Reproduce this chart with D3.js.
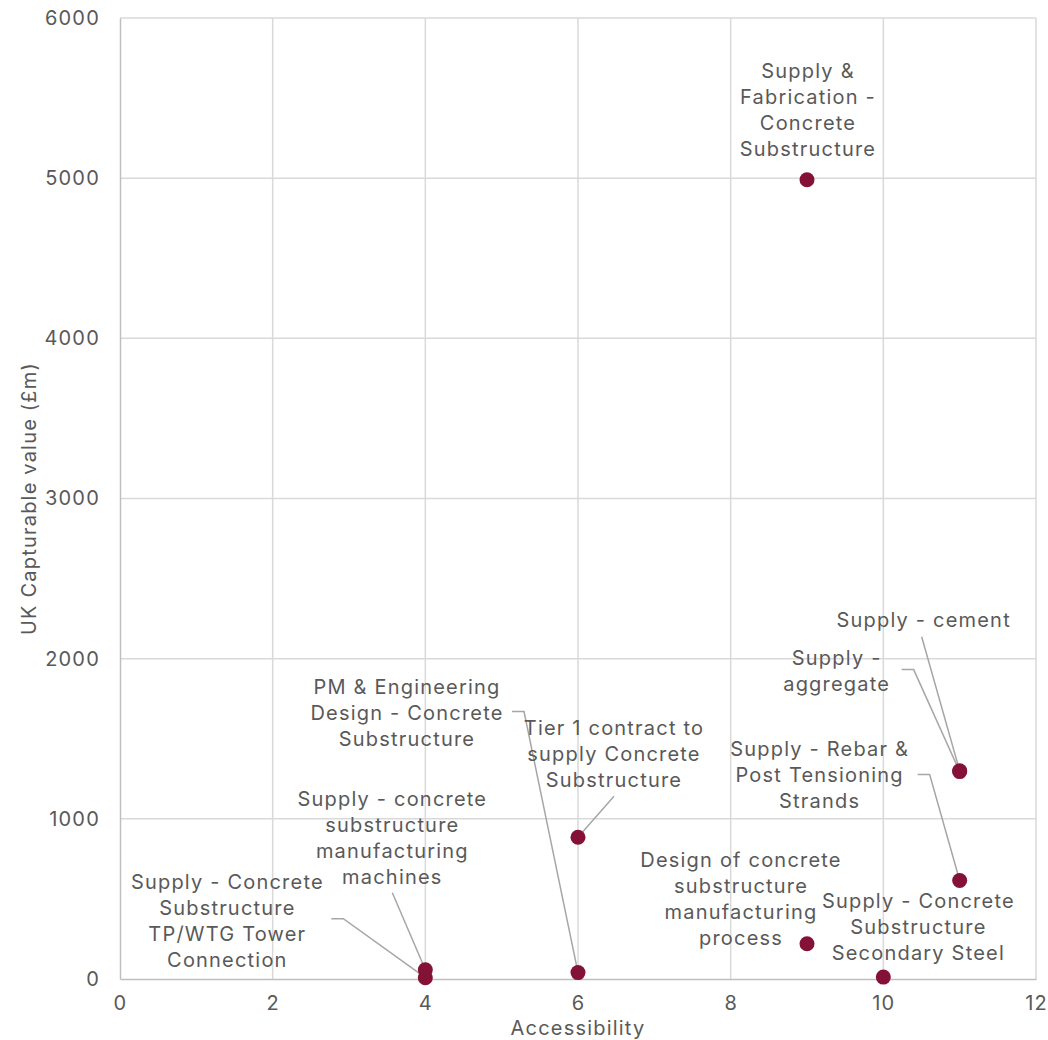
<!DOCTYPE html>
<html>
<head>
<meta charset="utf-8">
<script src="https://cdn.jsdelivr.net/npm/d3@7"></script>
<style>
  html, body { margin: 0; padding: 0; background: #fff; }
  svg { display: block; }
  text { font-family: "Inter", "DejaVu Sans", sans-serif; fill: #595959; letter-spacing: 1.2px; }
</style>
</head>
<body>
<svg id="chart" width="1048" height="1040"></svg>
<script>
// Supply-chain activities: accessibility vs UK capturable value
const activityNames = [
  ["Supply &", "Fabrication -", "Concrete", "Substructure"],
  ["Supply - cement"],
  ["Supply -", "aggregate"],
  ["Supply - Rebar &", "Post Tensioning", "Strands"],
  ["Design of concrete", "substructure", "manufacturing", "process"],
  ["Supply - Concrete", "Substructure", "Secondary Steel"],
  ["Tier 1 contract to", "supply Concrete", "Substructure"],
  ["PM & Engineering", "Design - Concrete", "Substructure"],
  ["Supply - concrete", "substructure", "manufacturing", "machines"],
  ["Supply - Concrete", "Substructure", "TP/WTG Tower", "Connection"]
];
const accessibility = [9, 11, 11, 11, 9, 10, 6, 6, 4, 4];
const capturableValue = [4990, 1300, 1295, 615, 220, 12, 885, 40, 58, 8];

const xTicks = [0, 2, 4, 6, 8, 10, 12];
const yTicks = [0, 1000, 2000, 3000, 4000, 5000, 6000];

// Label placement relative to each point (pixels): label centre of first line,
// and optional leader path start / elbow.
const labelLayout = [
  { dx: 1,    dy: -109, leader: null },
  { dx: -36,  dy: -151, leader: [[-38, -134]] },
  { dx: -123, dy: -114, leader: [[-58, -102], [-46, -102]] },
  { dx: -140, dy: -131, leader: [[-42, -106], [-30, -106]] },
  { dx: -66,  dy: -84,  leader: null },
  { dx: 35,   dy: -76,  leader: null },
  { dx: 36,   dy: -109, leader: [[36, -41]] },
  { dx: -171, dy: -286, leader: [[-66, -261], [-54, -261]] },
  { dx: -33,  dy: -171, leader: [[-33, -77]] },
  { dx: -198, dy: -96,  leader: [[-94, -59], [-82, -59]] }
];

const svg = d3.select("#chart");
const margin = { left: 120, right: 12, top: 18, bottom: 61 };
const W = 1048, H = 1040;

const x = d3.scaleLinear().domain([0, 12]).range([margin.left, W - margin.right]);
const y = d3.scaleLinear().domain([0, 6000]).range([H - margin.bottom, margin.top]);

const fontSize = 20;
const lineH = 26;
const gridColor = "#d9d9d9";
const axisColor = "#bfbfbf";
const markColor = "#831236";

// Gridlines
svg.append("g").selectAll("line").data(yTicks.filter(t => t > 0)).join("line")
  .attr("x1", x(0)).attr("x2", x(12))
  .attr("y1", d => y(d)).attr("y2", d => y(d))
  .attr("stroke", gridColor).attr("stroke-width", 1.5);
svg.append("g").selectAll("line").data(xTicks.filter(t => t > 0)).join("line")
  .attr("x1", d => x(d)).attr("x2", d => x(d))
  .attr("y1", y(0)).attr("y2", y(6000))
  .attr("stroke", gridColor).attr("stroke-width", 1.5);

// Axes
const xAxis = d3.axisBottom(x).tickValues(xTicks).tickSize(0).tickPadding(16)
  .tickFormat(d3.format("d"));
const yAxis = d3.axisLeft(y).tickValues(yTicks).tickSize(0).tickPadding(20)
  .tickFormat(d3.format("d"));

const gx = svg.append("g").attr("transform", `translate(0,${y(0)})`).call(xAxis);
const gy = svg.append("g").attr("transform", `translate(${x(0)},0)`).call(yAxis);
[gx, gy].forEach(g => {
  g.select(".domain").attr("stroke", axisColor).attr("stroke-width", 1.5);
  g.selectAll("text").attr("font-size", fontSize).attr("font-family", null).attr("fill", "#595959");
});
gx.selectAll(".tick text").attr("dy", "0.75em");

// Axis titles
svg.append("text")
  .attr("x", x(6)).attr("y", H - 5)
  .attr("text-anchor", "middle").attr("font-size", fontSize)
  .text("Accessibility");
svg.append("text")
  .attr("transform", `translate(36,${(y(0) + y(6000)) / 2}) rotate(-90)`)
  .attr("text-anchor", "middle").attr("font-size", fontSize)
  .text("UK Capturable value (£m)");

// Records
const records = accessibility.map((a, i) => ({
  a, v: capturableValue[i], name: activityNames[i], layout: labelLayout[i]
}));

// Leader lines
svg.append("g").selectAll("path")
  .data(records.filter(d => d.layout.leader))
  .join("path")
  .attr("fill", "none").attr("stroke", "#a6a6a6").attr("stroke-width", 1.5)
  .attr("d", d => {
    const px = x(d.a), py = y(d.v);
    const pts = d.layout.leader.map(([ox, oy]) => [px + ox, py + oy]);
    pts.push([px, py]);
    return d3.line()(pts);
  });

// Points
svg.append("g").selectAll("circle").data(records).join("circle")
  .attr("cx", d => x(d.a)).attr("cy", d => y(d.v)).attr("r", 7.5)
  .attr("fill", markColor);

// Labels
const labels = svg.append("g").selectAll("text").data(records).join("text")
  .attr("text-anchor", "middle").attr("font-size", fontSize)
  .attr("transform", d => `translate(${x(d.a) + d.layout.dx},${y(d.v) + d.layout.dy})`);
labels.selectAll("tspan").data(d => d.name).join("tspan")
  .attr("x", 0).attr("y", (d, i) => i * lineH).attr("dy", "0.35em")
  .text(d => d);
</script>
</body>
</html>
